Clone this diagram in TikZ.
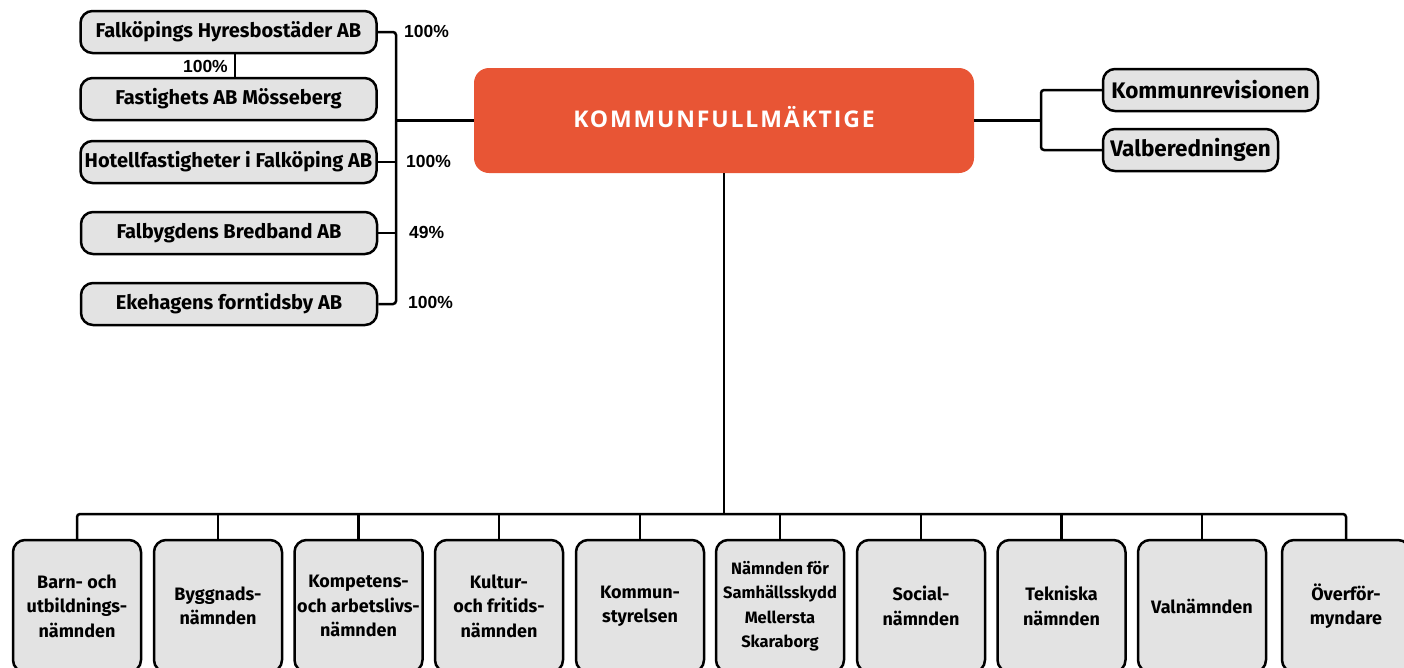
\documentclass[tikz,border=0pt]{standalone}
\usepackage{fontspec}
\setmainfont{Fira Sans}
\newfontfamily\pctfont{Liberation Sans}
\newfontfamily\kffont{Open Sans}[LetterSpace=8]
\definecolor{kfred}{HTML}{E85535}
\definecolor{boxgray}{HTML}{E3E3E3}
\tikzset{
  org/.style={draw=black, line width=2.5pt, fill=boxgray, rounded corners=12pt,
    font=\fontsize{18}{24.5}\selectfont\bfseries, align=center, inner sep=0pt},
  topbox/.style={org, minimum width=296pt, minimum height=42pt,
    font=\fontsize{20}{24}\selectfont\bfseries},
  rightbox/.style={org, minimum height=42pt,
    font=\fontsize{22.5}{26}\selectfont\bfseries},
  botbox/.style={org, minimum width=128pt, minimum height=132pt},
  conn/.style={line width=2.5pt, rounded corners=3pt},
  pct/.style={font=\pctfont\fontsize{17.5}{20}\selectfont\bfseries, inner sep=0pt},
}
\begin{document}
\begin{tikzpicture}[x=1pt,y=-1pt]
\useasboundingbox (0,0) rectangle (1404,667);
\clip (0,0) rectangle (1404,667);
% top-left companies
\node[topbox] (b1) at (228.5,32) {Falköpings Hyresbostäder AB};
\node[topbox] (b2) at (228.5,99) {Fastighets AB Mösseberg};
\node[topbox] (b3) at (228.5,162) {Hotellfastigheter i Falköping AB};
\node[topbox] (b4) at (229,233) {Falbygdens Bredband AB};
\node[topbox] (b5) at (229,304) {Ekehagens forntidsby AB};
% central
\node[fill=kfred, rounded corners=15pt, minimum width=500pt, minimum height=105pt,
  text=white, font=\kffont\fontsize{23}{26}\selectfont\bfseries, inner sep=0pt] (kf) at (724,120.5) {\raisebox{7pt}{KOMMUNFULLMÄKTIGE}};
% right
\node[rightbox, minimum width=215pt] (kr) at (1210.5,90) {Kommunrevisionen};
\node[rightbox, minimum width=175pt] (vb) at (1190.5,150) {Valberedningen};
% bottom
\node[botbox] (n1) at (77,606) {Barn- och\\utbildnings-\\nämnden};
\node[botbox] (n2) at (218,606) {Byggnads-\\nämnden};
\node[botbox] (n3) at (358.5,606) {Kompetens-\\och arbetslivs-\\nämnden};
\node[botbox] (n4) at (499,606) {Kultur-\\och fritids-\\nämnden};
\node[botbox] (n5) at (640,606) {Kommun-\\styrelsen};
\node[botbox, font=\fontsize{16.5}{24.5}\selectfont\bfseries] (n6) at (780,606) {Nämnden för\\Samhällsskydd\\Mellersta\\Skaraborg};
\node[botbox] (n7) at (921,606) {Social-\\nämnden};
\node[botbox] (n8) at (1061.5,606) {Tekniska\\nämnden};
\node[botbox] (n9) at (1202,606) {Valnämnden};
\node[botbox] (n10) at (1346,606) {Överför-\\myndare};
% percent labels
\node[pct, anchor=west] (p1) at (404,31) {100\%};
\node[pct, anchor=east] (p2) at (228,66) {100\%};
\node[pct, anchor=west] (p3) at (406,161) {100\%};
\node[pct, anchor=west] (p4) at (409,232) {49\%};
\node[pct, anchor=west] (p5) at (408,302) {100\%};
% connectors left
\coordinate (bx) at (396,0);
\draw[conn] (b1.east) -| (bx |- b5.east) -- (b5.east);
\draw[conn] (b3.east) -- (b3.east -| bx);
\draw[conn] (b4.east) -- (b4.east -| bx);
\draw[conn] (kf.west) -- (kf.west -| bx);
\draw[conn] ([xshift=6.5pt]b1.south) -- ([xshift=6.5pt]b2.north);
% connectors right
\coordinate (rx) at (1041,0);
\draw[conn] (kf.east) -- (kf.east -| rx);
\draw[conn] (kr.west) -| (rx |- vb.west) -- (vb.west);
% connectors bottom
\coordinate (by) at (0,514);
\draw[conn] (kf.south) -- (kf.south |- by);
\draw[conn] (n1.north) |- (n10.north |- by) -- (n10.north);
\foreach \n in {n2,n3,n4,n5,n6,n7,n8,n9}{
  \draw[conn] (\n.north) -- (\n.north |- by);
}
\end{tikzpicture}
\end{document}
